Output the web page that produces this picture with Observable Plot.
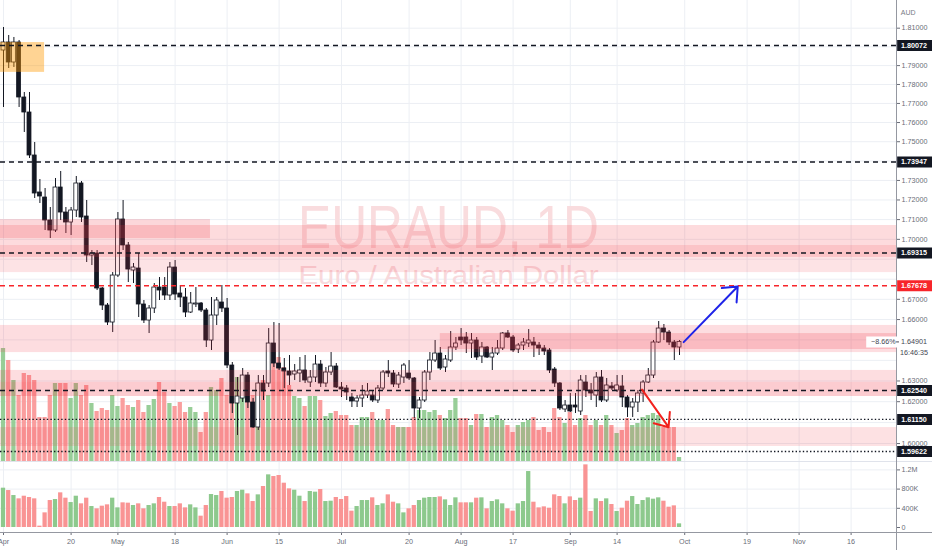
<!DOCTYPE html>
<html>
<head>
<meta charset="utf-8">
<script src="https://cdn.jsdelivr.net/npm/d3@7"></script>
<script src="https://cdn.jsdelivr.net/npm/@observablehq/plot@0.6"></script>
<style>
html,body{margin:0;padding:0;background:#fff;}
#chart{position:relative;width:932px;height:550px;overflow:hidden;background:#fff;}
</style>
</head>
<body>
<div id="chart"></div>
<script>
// ---------- DATA (EURAUD daily, Apr 1 2020 = bar 0) ----------
const open = [1.79805,1.80233,1.79166,1.80233,1.77313,1.76525,1.74286,1.72382,1.72125,1.70954,
1.70447,1.72637,1.71360,1.70853,1.71462,1.72843,1.71157,1.69186,1.69287,1.67537,
1.66693,1.65854,1.68184,1.71005,1.69690,1.68434,1.68534,1.66743,1.65952,1.66545,
1.67586,1.67586,1.67189,1.68584,1.67288,1.67090,1.66347,1.66743,1.66793,1.66446,
1.64970,1.66199,1.66842,1.66545,1.63750,1.61913,1.62153,1.63264,1.61961,1.60763,
1.62877,1.62877,1.64823,1.63847,1.63604,1.63459,1.63313,1.63362,1.63507,1.62925,
1.63167,1.63798,1.62877,1.63410,1.63701,1.62684,1.62636,1.62201,1.62009,1.62153,
1.62298,1.62298,1.62057,1.62636,1.63459,1.63362,1.62829,1.63167,1.63362,1.63119,
1.61673,1.62057,1.63410,1.63993,1.64334,1.63653,1.63993,1.64628,1.65117,1.65117,
1.64823,1.64970,1.64188,1.64628,1.64139,1.64334,1.64579,1.65313,1.65117,1.64530,
1.64725,1.64823,1.64872,1.64725,1.64579,1.64481,1.63556,1.62877,1.61625,1.61817,
1.61817,1.61529,1.62925,1.62539,1.62298,1.63167,1.62057,1.62733,1.62539,1.62733,
1.62201,1.61721,1.61961,1.62394,1.62925,1.63264,1.64872,1.65558,1.65362,1.64872,
1.64628];
const high = [1.81037,1.80608,1.80501,1.80340,1.77577,1.77577,1.74960,1.73048,1.72586,1.71615,
1.73100,1.73460,1.71615,1.71615,1.73203,1.72946,1.71972,1.69438,1.69438,1.67586,
1.66793,1.68334,1.71360,1.71972,1.69841,1.68785,1.69287,1.66941,1.66693,1.67785,
1.68084,1.68084,1.68835,1.68935,1.67686,1.67537,1.67338,1.67586,1.66842,1.66545,
1.67090,1.67090,1.67686,1.67040,1.63896,1.63167,1.63604,1.63410,1.62153,1.63264,
1.63264,1.65558,1.65853,1.65804,1.64091,1.64237,1.63798,1.64139,1.64237,1.63507,
1.64237,1.63993,1.63653,1.64383,1.63847,1.62925,1.62781,1.62394,1.62298,1.62781,
1.62877,1.62539,1.62781,1.63507,1.63993,1.63507,1.63410,1.63847,1.63993,1.63167,
1.62201,1.63507,1.64383,1.64970,1.64628,1.64237,1.65411,1.65117,1.65558,1.65362,
1.65313,1.65117,1.64872,1.64676,1.64628,1.64970,1.65362,1.65460,1.65215,1.64823,
1.65068,1.65509,1.65117,1.64872,1.64725,1.64579,1.63653,1.62925,1.62057,1.62394,
1.62394,1.63264,1.63264,1.62877,1.63410,1.63507,1.63119,1.62925,1.63264,1.63264,
1.62298,1.62153,1.62539,1.63022,1.63604,1.64970,1.65903,1.65755,1.65460,1.64970,
1.64970];
const low = [1.76788,1.78846,1.78900,1.76788,1.75480,1.74130,1.72074,1.71819,1.70447,1.70043,
1.70346,1.70954,1.70295,1.70194,1.71106,1.70853,1.68835,1.68684,1.67437,1.66446,
1.65706,1.65362,1.68084,1.69438,1.67835,1.67785,1.66100,1.65804,1.65313,1.66298,
1.66941,1.66941,1.66941,1.66941,1.66594,1.66100,1.66298,1.66594,1.66347,1.64628,
1.64481,1.65706,1.66347,1.63604,1.61433,1.60382,1.61961,1.61673,1.60716,1.60620,
1.62057,1.62684,1.63653,1.63507,1.62636,1.62781,1.63022,1.62925,1.62877,1.62684,
1.62925,1.62684,1.62684,1.63264,1.62636,1.62201,1.62057,1.61721,1.61721,1.61721,
1.62153,1.61961,1.61913,1.62539,1.63167,1.62684,1.62636,1.62877,1.63022,1.61194,
1.61194,1.61961,1.63022,1.63896,1.63507,1.63410,1.63896,1.64481,1.64725,1.64334,
1.64091,1.63993,1.63847,1.64091,1.63507,1.64237,1.64481,1.65068,1.64383,1.64334,
1.64481,1.64628,1.64139,1.64237,1.64237,1.63362,1.62684,1.61577,1.61481,1.61481,
1.61433,1.61337,1.62201,1.62057,1.61721,1.61961,1.61961,1.62539,1.62443,1.61721,
1.61242,1.61242,1.61481,1.61961,1.62877,1.63119,1.64823,1.64970,1.64725,1.63993,
1.64237];
const close = [1.80233,1.79166,1.80233,1.77313,1.76525,1.74286,1.72330,1.72177,1.70954,1.70447,
1.72637,1.71360,1.70853,1.71462,1.72843,1.71106,1.69186,1.69287,1.67537,1.66693,
1.65854,1.68184,1.71005,1.69690,1.68484,1.68584,1.66743,1.65952,1.66545,1.67586,
1.67437,1.67189,1.68584,1.67238,1.67090,1.66347,1.66793,1.66793,1.66446,1.64970,
1.66199,1.66941,1.66545,1.63750,1.61913,1.62250,1.63264,1.61961,1.60763,1.62877,
1.62491,1.64823,1.63847,1.63604,1.63459,1.63264,1.63459,1.63507,1.63022,1.63167,
1.63798,1.62877,1.63410,1.63701,1.62684,1.62588,1.62443,1.62009,1.62153,1.62298,
1.62491,1.62057,1.62636,1.63410,1.63362,1.62829,1.63264,1.63750,1.63119,1.61673,
1.62057,1.63410,1.63993,1.64334,1.63604,1.64042,1.64628,1.64823,1.64970,1.64823,
1.64970,1.64139,1.64628,1.64139,1.64334,1.64579,1.65313,1.65117,1.64481,1.64725,
1.64872,1.64970,1.64725,1.64579,1.64432,1.63507,1.62877,1.61673,1.61817,1.61529,
1.61721,1.63022,1.62539,1.62394,1.63167,1.62057,1.62781,1.62636,1.62781,1.62201,
1.61721,1.61961,1.62394,1.62925,1.63264,1.64872,1.65558,1.65362,1.64872,1.64628,
1.64901];
// volume, thousands (lower pane)
const volumeK = [819,770,666,597,652,625,597,28,305,562,
583,722,611,520,652,493,611,437,389,444,
472,611,409,514,507,458,493,389,458,493,
625,527,437,437,493,409,472,409,236,458,
687,666,750,611,625,750,777,701,541,680,
854,1097,1062,1083,923,805,777,652,541,750,
736,791,541,548,625,583,645,340,437,562,
562,618,458,493,680,527,493,305,389,458,
562,611,625,625,638,576,458,618,514,514,
514,611,618,389,541,576,493,389,340,493,
541,1166,527,409,430,402,680,645,493,638,
562,611,1305,333,597,541,597,479,333,402,
548,645,479,562,618,590,618,548,423,451,
76];
// overlay volume in the price pane (relative units)
const overlayVol = [113,101,81,66,88,86,81,44,44,66,
78,78,78,63,78,66,76,58,50,53,
51,66,55,63,56,54,61,49,56,62,
79,69,58,55,59,49,54,49,29,49,
74,71,83,66,69,84,84,84,66,78,
81,66,111,104,94,76,65,63,55,65,
65,61,45,48,50,46,46,36,36,44,
44,49,41,41,52,36,34,34,34,44,
51,51,49,51,46,43,51,63,43,43,
36,47,47,34,44,46,41,36,29,36,
39,41,44,31,34,29,53,44,38,49,
36,43,46,36,41,36,46,36,28,31,
43,36,38,44,46,48,46,34,34,34,
4];

const dateTickIdx    = [0,13,22,33,43,53,65,78,88,98,109,118,131,143,153,163];
const dateTickLabels = ["Apr","20","May","18","Jun","15","Jul","20","Aug","17","Sep","14","Oct","19","Nov","16"];
// price grid every 0.01; labels only where no price tag covers them
const priceGrid = d3.range(160, 182).map(d => d / 100);
const priceTickLabels = [1.60,1.62,1.63,1.66,1.67,1.70,1.71,1.72,1.73,1.75,1.76,1.77,1.78,1.79,1.81];
const volTicks = [0, 400000, 800000, 1200000];

const levelPrices = [1.80072, 1.73947, 1.69315, 1.67678, 1.62540, 1.61150, 1.59622];
const levelColors = ["#131722","#131722","#131722","#f7252a","#131722","#131722","#131722"];
const levelStyles = ["dash","dash","dash","dash","dash","dot","dot"];

const zoneFromIdx = [-0.58, -0.58, -0.58, -0.58, -0.58, 84.0, -0.58, -0.58, -0.58];
const zoneToIdx   = [7.9, 39.8, 171.73, 171.73, 171.73, 171.73, 171.73, 171.73, 171.73];
const zoneLow     = [1.7864, 1.7004, 1.6909, 1.6833, 1.6438, 1.6453, 1.6225, 1.6225, 1.5986];
const zoneHigh    = [1.8023, 1.7100, 1.7070, 1.6969, 1.6571, 1.6531, 1.6351, 1.6293, 1.6076];
const zoneFill    = ["rgba(255,152,0,0.42)","rgba(242,54,69,0.2)","rgba(242,54,69,0.18)","rgba(242,54,69,0.14)",
                     "rgba(242,54,69,0.17)","rgba(242,54,69,0.2)","rgba(242,54,69,0.17)","rgba(242,54,69,0.1)","rgba(242,54,69,0.15)"];

const arrowFromIdx   = [130.8, 122.8];
const arrowFromPrice = [1.6489, 1.6258];
const arrowToIdx     = [141.2, 127.9];
const arrowToPrice   = [1.67638, 1.6078];
const arrowColors    = ["#1f24e8", "#f2221e"];

const lastPrice = 1.64901;
const changeText = "\u22128.66%";
const countdown = "16:46:35";
const title = "EURAUD, 1D";
const subtitle = "Euro / Australian Dollar";

// ---------- BUILD ----------
const FONT = "'Liberation Sans', Arial, sans-serif";
const GREEN = "#8dc98d", RED = "#f99494", GRID = "#eceff4", AXIS = "#9598a1", TXT = "#434651";
const bars = open.map((o, i) => ({i, o, h: high[i], l: low[i], c: close[i], up: close[i] >= o,
  v: volumeK[i] * 1000, ov: overlayVol[i]}));
const zones = zoneLow.map((lo, k) => ({x1: zoneFromIdx[k], x2: zoneToIdx[k], lo, hi: zoneHigh[k], fill: zoneFill[k]}));
const levels = levelPrices.map((p, k) => ({p, color: levelColors[k], style: levelStyles[k]}));
const arrows = arrowColors.map((c, k) => ({x1: arrowFromIdx[k], y1: arrowFromPrice[k], x2: arrowToIdx[k], y2: arrowToPrice[k], c}));
const tickLabel = new Map(dateTickIdx.map((d, k) => [d, dateTickLabels[k]]));

const xS = {type: "linear", domain: [-0.577, 171.73]};
const yP = {type: "log", domain: [1.59149, 1.82494]};
function layer(top, h, opts) {
  return Object.assign({
    width: 932, height: h, marginLeft: 0, marginRight: 36, marginTop: 0, marginBottom: 0,
    color: {type: "identity"},
    style: {position: "absolute", left: "0px", top: top + "px", background: "none", overflow: "visible",
            color: "#6a6d78", fontSize: "7.2px", fontFamily: FONT}
  }, opts);
}
const chart = document.getElementById("chart");

// 1: grid + watermark
const g1 = Plot.plot(layer(0, 461, {
  x: {...xS, axis: null}, y: {...yP, axis: null},
  marks: [
    Plot.ruleX(dateTickIdx, {stroke: GRID}),
    Plot.ruleY(priceGrid, {stroke: GRID}),
    Plot.text([title], {text: d => d, frameAnchor: "top", dy: 203, fontSize: 62, fill: "#f9dcde"}),
    Plot.text([subtitle], {text: d => d, frameAnchor: "top", dy: 266, fontSize: 25, fill: "#f8d9dc"})
  ]
}));
d3.select(g1).selectAll("text").each(function() {
  if (this.textContent === title) d3.select(this).attr("textLength", 301).attr("lengthAdjust", "spacingAndGlyphs");
  if (this.textContent === subtitle) d3.select(this).attr("textLength", 300).attr("lengthAdjust", "spacingAndGlyphs");
});
chart.appendChild(g1);

// 2: overlay volume in price pane
chart.appendChild(Plot.plot(layer(0, 461, {
  x: {...xS, axis: null}, y: {domain: [0, 461], axis: null},
  marks: [
    Plot.rect(bars, {x1: d => d.i - 0.41, x2: d => d.i + 0.41, y1: () => 0, y2: "ov",
      fill: d => d.up ? GREEN : RED, fillOpacity: 0.9})
  ]
})));

// 3: candles, zones, levels, price axis
chart.appendChild(Plot.plot(layer(0, 461, {
  x: {...xS, axis: null},
  y: {...yP, axis: "right", ticks: priceTickLabels, tickFormat: d3.format(".5f"), tickSize: 3, tickPadding: 2, label: null},
  marks: [
    Plot.ruleX(bars, {x: "i", y1: "l", y2: "h", stroke: "#131722", strokeWidth: 1}),
    Plot.rect(bars, {x1: d => d.i - 0.38, x2: d => d.i + 0.38, y1: "o", y2: "c",
      fill: d => d.up ? "#ffffff" : "#131722", stroke: "#131722", strokeWidth: 0.8}),
    Plot.rect(zones, {x1: "x1", x2: "x2", y1: "lo", y2: "hi", fill: "fill"}),
    Plot.ruleY(levels.filter(d => d.style === "dash"), {y: "p", stroke: "color", strokeWidth: 1.5, strokeDasharray: "5,4"}),
    Plot.ruleY(levels.filter(d => d.style === "dot"), {y: "p", stroke: "color", strokeWidth: 1.4, strokeDasharray: "1.4,2.2"}),
    Plot.ruleX([171.73], {stroke: AXIS})
  ]
})));

// 4: volume pane + time axis
chart.appendChild(Plot.plot(layer(461, 89, {
  marginBottom: 18,
  x: {...xS, ticks: dateTickIdx, tickFormat: i => tickLabel.get(i), tickSize: 3, tickPadding: 3, label: null},
  y: {domain: [-104167, 1375000], axis: "right", ticks: volTicks,
      tickFormat: d => d === 0 ? "0" : d >= 1e6 ? (d / 1e6).toFixed(1) + "M" : Math.round(d / 1e3) + "K",
      tickSize: 3, tickPadding: 2, label: null},
  marks: [
    Plot.ruleX(dateTickIdx, {stroke: GRID}),
    Plot.ruleY(volTicks.slice(1), {stroke: GRID}),
    Plot.rect(bars, {x1: d => d.i - 0.41, x2: d => d.i + 0.41, y1: () => 0, y2: "v", fill: d => d.up ? GREEN : RED}),
    Plot.ruleY([1375000], {stroke: "#e0e3eb", insetRight: -36}),
    Plot.ruleY([-104167], {stroke: AXIS, insetRight: -36}),
    Plot.ruleX([171.73], {stroke: AXIS, insetBottom: -18})
  ]
})));

// 5: arrows and price labels
chart.appendChild(Plot.plot(layer(0, 461, {
  x: {...xS, axis: null}, y: {...yP, axis: null},
  marks: [
    Plot.arrow(arrows, {x1: "x1", y1: "y1", x2: "x2", y2: "y2", stroke: "c", strokeWidth: 2, headLength: 12, headAngle: 80}),
    Plot.ruleY(levels, {y: "p", x1: () => 171.95, x2: () => 178.7, stroke: "color", strokeWidth: 11}),
    Plot.text(levels, {x: () => 175.1, y: "p", text: d => d.p.toFixed(5), fill: "#ffffff", fontWeight: "bold", fontSize: 7.2}),
    Plot.ruleY([lastPrice], {y: d => d, x1: () => 166.0, x2: () => 178.7, stroke: "#ffffff", strokeWidth: 11}),
    Plot.ruleY([lastPrice], {y: d => d, x1: () => 171.95, x2: () => 178.7, stroke: "#ffffff", strokeWidth: 11, dy: 11}),
    Plot.ruleY([lastPrice], {y: d => d, x1: () => 171.75, x2: () => 172.3, stroke: TXT}),
    Plot.text([lastPrice], {x: () => 169.2, y: d => d, text: () => changeText, fill: TXT, fontSize: 7.2}),
    Plot.text([lastPrice], {x: () => 175.1, y: d => d, text: d => d.toFixed(5), fill: TXT, fontSize: 7.2}),
    Plot.text([lastPrice], {x: () => 175.1, y: d => d, text: () => countdown, fill: TXT, fontSize: 7.2, dy: 11}),
    Plot.text(["AUD"], {text: d => d, frameAnchor: "top-right", dx: 19, dy: 10, fill: "#787b86", fontSize: 7})
  ]
})));
</script>
</body>
</html>
